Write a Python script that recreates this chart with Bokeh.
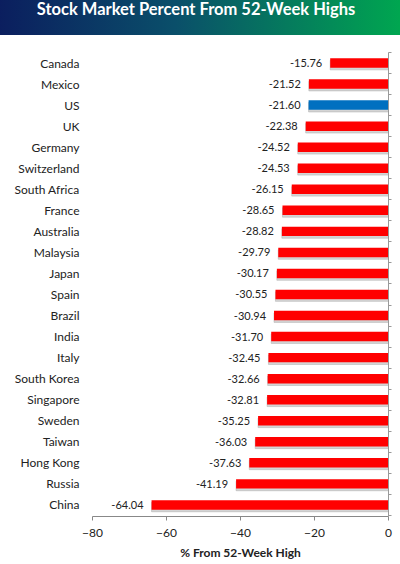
from bokeh.plotting import figure
from bokeh.models import ColumnDataSource, FixedTicker, LinearAxis, Range1d, Div
from bokeh.layouts import column
from bokeh.transform import dodge
from bokeh.core.properties import value
from bokeh.embed import file_html
from bokeh.resources import INLINE

title = "Stock Market Percent From 52-Week Highs"
x_title = "% From 52-Week High"
countries = ["Canada", "Mexico", "US", "UK", "Germany", "Switzerland", "South Africa",
             "France", "Australia", "Malaysia", "Japan", "Spain", "Brazil", "India",
             "Italy", "South Korea", "Singapore", "Sweden", "Taiwan", "Hong Kong",
             "Russia", "China"]
pct = [-15.76, -21.52, -21.60, -22.38, -24.52, -24.53, -26.15, -28.65, -28.82, -29.79,
       -30.17, -30.55, -30.94, -31.70, -32.45, -32.66, -32.81, -35.25, -36.03, -37.63,
       -41.19, -64.04]
x_ticks = [-80, -60, -40, -20, 0]
highlight = "US"

FONT = "Lato"
n = len(countries)
ypos = [n - 1 - i for i in range(n)]
colors = ["#0070c0" if c == highlight else "#ff0000" for c in countries]
labels = ["%.2f" % v for v in pct]

src = ColumnDataSource(dict(y=ypos, v=pct, c=colors, lab=labels))

p = figure(width=396, height=527, x_range=Range1d(-80, 0), y_range=Range1d(-0.55, n - 0.5),
           output_backend="svg", toolbar_location=None, y_axis_location=None,
           min_border_left=92, min_border_right=8, min_border_top=17, min_border_bottom=46)
p.outline_line_color = None
p.xgrid.visible = False
p.ygrid.visible = False
p.background_fill_color = "white"

# shadow
p.hbar(y=dodge("y", -0.1), left="v", right=0, height=0.45, source=src,
       color="#b0b0b0", alpha=0.55)
p.hbar(y="y", left="v", right=0, height=0.45, source=src, color="c", line_color=None)
p.text(x="v", y="y", text="lab", source=src, x_offset=-8, text_align="right",
       text_baseline="middle", text_font=value(FONT), text_font_size="11px",
       text_color="#222222")

xa = p.xaxis[0]
xa.ticker = FixedTicker(ticks=x_ticks)
xa.axis_line_color = "#888888"
xa.major_tick_line_color = "#888888"
xa.major_tick_out = 4
xa.major_tick_in = 0
xa.minor_tick_line_color = None
xa.major_label_text_font = FONT
xa.major_label_text_font_size = "12px"
xa.major_label_text_color = "#222222"
xa.major_label_standoff = 8
xa.axis_label = x_title
xa.axis_label_text_font = FONT
xa.axis_label_text_font_size = "12px"
xa.axis_label_text_font_style = "bold"
xa.axis_label_text_color = "#222222"
xa.axis_label_standoff = 5

la = LinearAxis(ticker=FixedTicker(ticks=ypos),
                major_label_overrides={y: c for y, c in zip(ypos, countries)})
la.axis_line_color = None
la.major_tick_line_color = None
la.major_tick_out = 0
la.major_tick_in = 0
la.minor_tick_line_color = None
la.major_label_standoff = 13
la.major_label_text_font = FONT
la.major_label_text_font_size = "12px"
la.major_label_text_color = "#222222"
p.add_layout(la, "left")

bounds = [i - 0.5 for i in range(n + 1)]
ra = LinearAxis(ticker=FixedTicker(ticks=bounds),
                major_label_overrides={b: "" for b in bounds})
ra.axis_line_color = "#999999"
ra.major_tick_line_color = "#999999"
ra.major_tick_out = 3
ra.major_tick_in = 0
ra.minor_tick_line_color = None
ra.major_label_standoff = 0
ra.major_label_text_font_size = "1px"
p.add_layout(ra, "right")

div = Div(text=title, width=416, height=43, margin=(-8, 0, 0, -8),
          styles={"background": "linear-gradient(to right, #0b1c5e, #0a4f6a 45%, #00a650)",
                  "color": "white", "font-family": FONT, "font-weight": "bold",
                  "font-size": "16.5px", "text-align": "center", "line-height": "35px"})

layout = column(div, p, spacing=0)
open("out.html", "w").write(file_html(layout, INLINE))
